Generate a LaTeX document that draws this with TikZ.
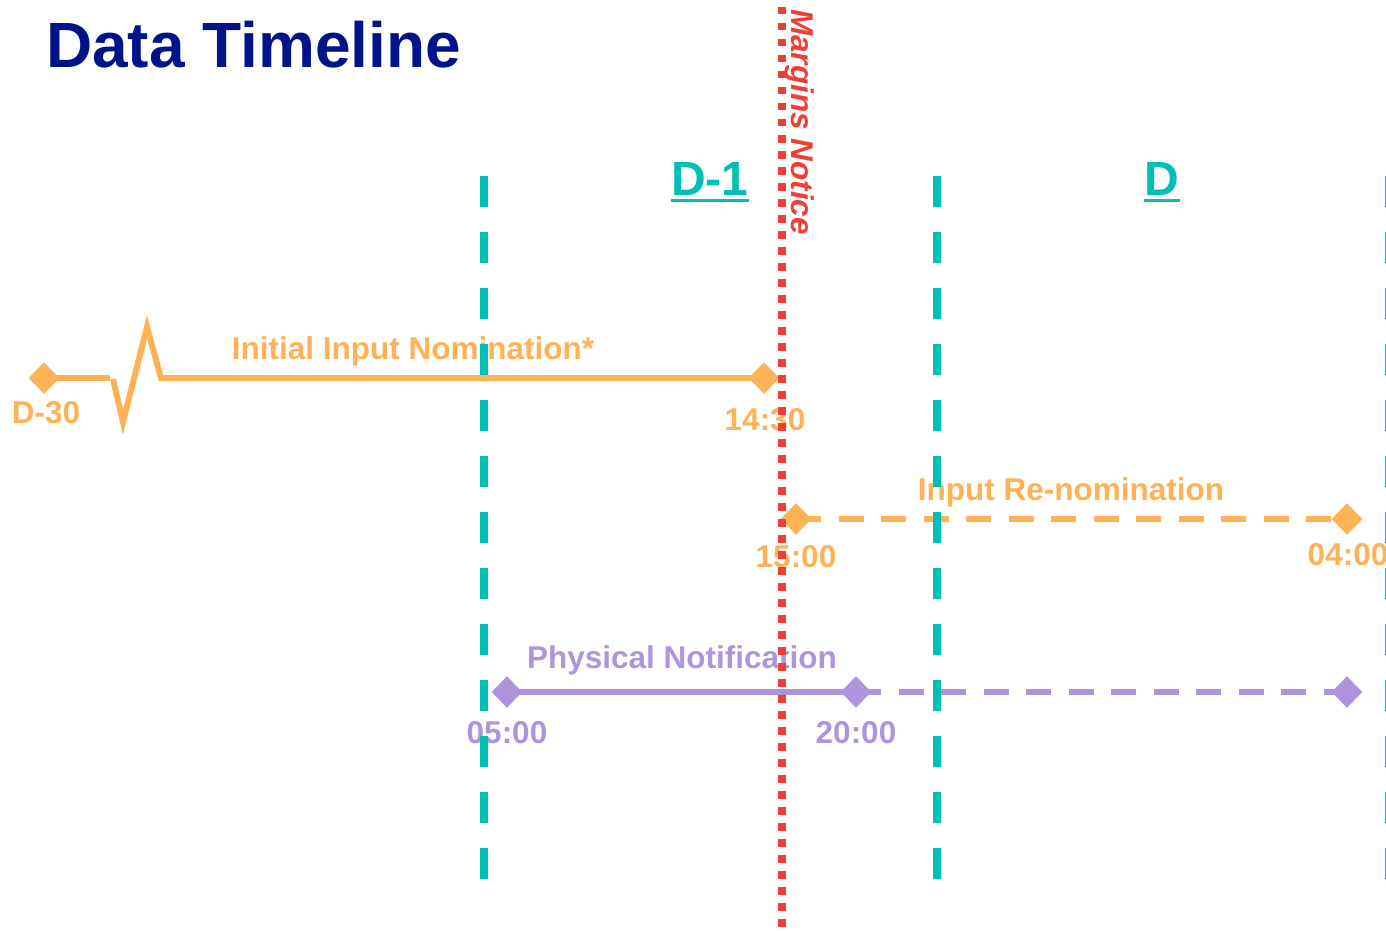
\documentclass[tikz,border=0pt]{standalone}
\usepackage{fontspec}
\setmainfont{Liberation Sans}
\usetikzlibrary{shapes.geometric}
\definecolor{titleblue}{HTML}{001489}
\definecolor{tlorange}{HTML}{FFB155}
\definecolor{tlpurple}{HTML}{AE94DC}
\definecolor{tlteal}{HTML}{00BFB5}
\definecolor{tlred}{HTML}{F03E36}
\tikzset{
  lbl/.style={inner sep=0pt, anchor=base, font=\bfseries\fontsize{31.5}{36}\selectfont},
  daylbl/.style={inner sep=0pt, anchor=base, text=tlteal, font=\bfseries\fontsize{48}{54}\selectfont},
  dia/.style={diamond, inner sep=0pt, minimum width=30pt, minimum height=31pt, draw=none},
  dayline/.style={tlteal, line width=8pt, dash pattern=on 31pt off 25pt},
  marginline/.style={tlred, line width=7.5pt, dash pattern=on 7.5pt off 8.5pt},
  orangeline/.style={tlorange, line width=6pt},
  purpleline/.style={tlpurple, line width=6pt},
  gapdash/.style={dash pattern=on 25pt off 17.5pt}
}
\begin{document}
\begin{tikzpicture}[x=1pt,y=-1pt]
\useasboundingbox (0,0) rectangle (1386,931);

% title
\node[inner sep=0pt, anchor=base west, text=titleblue,
      font=\bfseries\fontsize{64}{72}\selectfont] (title) at (46,68) {Data Timeline};

% timeline anchor points
\node[dia, fill=tlorange] (d30) at (44,378) {};
\node[dia, fill=tlorange] (t1430) at (764,378) {};
\node[dia, fill=tlorange] (t1500) at (796,519) {};
\node[dia, fill=tlorange] (t0400a) at (1347,519) {};
\node[dia, fill=tlpurple] (t0500) at (507,692) {};
\node[dia, fill=tlpurple] (t2000) at (856,692) {};
\node[dia, fill=tlpurple] (t0400b) at (1347,692) {};

% initial input nomination, with a break mark
\coordinate (brk1) at (110,378);
\coordinate (brk2) at (113,379);
\coordinate (brk3) at (123,422);
\coordinate (brk4) at (147,327);
\coordinate (brk5) at (161,378);
\draw[orangeline] (d30.center) -- (brk1);
\draw[orangeline, line join=miter] (brk2) -- (brk3) -- (brk4) -- (brk5) -- (t1430.center);
\draw[orangeline, gapdash] (t1500.center) -- (t0400a.center);
\draw[purpleline] (t0500.center) -- (t2000.center);
\draw[purpleline, gapdash] (t2000.center) -- (t0400b.center);

% redraw markers over the lines
\foreach \n/\c in {d30/tlorange, t1430/tlorange, t1500/tlorange, t0400a/tlorange,
                   t0500/tlpurple, t2000/tlpurple, t0400b/tlpurple}
  \fill[\c] (\n.north) -- (\n.east) -- (\n.south) -- (\n.west) -- cycle;

% labels
\node[lbl, text=tlorange] (lInit) at (413,359) {Initial Input Nomination*};
\node[lbl, text=tlorange] (lD30) at (46,423) {D-30};
\node[lbl, text=tlorange] (l1430) at (765,430) {14:30};
\node[lbl, text=tlorange] (lRe) at (1071,500) {Input Re-nomination};
\node[lbl, text=tlorange] (l1500) at (796,567) {15:00};
\node[lbl, text=tlorange] (l0400) at (1348,565) {04:00};
\node[lbl, text=tlpurple] (lPhys) at (682,668) {Physical Notification};
\node[lbl, text=tlpurple] (l0500) at (507,743) {05:00};
\node[lbl, text=tlpurple] (l2000) at (856,743) {20:00};

% day boundaries
\coordinate (b1top) at (484,176);
\coordinate (b1bot) at (484,880);
\coordinate (b2top) at (937,176);
\coordinate (b2bot) at (937,880);
\coordinate (b3top) at (1389,176);
\coordinate (b3bot) at (1389,880);
\draw[dayline] (b1top) -- (b1bot);
\draw[dayline] (b2top) -- (b2bot);
\draw[dayline] (b3top) -- (b3bot);

% day headings
\node[daylbl] (dm1) at (710,195) {D-1};
\node[daylbl] (dd) at (1162,195) {D};
\draw[tlteal, line width=3pt] ([yshift=-5.5pt]dm1.base west) -- ([yshift=-5.5pt]dm1.base east);
\draw[tlteal, line width=3pt] ([yshift=-5.5pt]dd.base west) -- ([yshift=-5.5pt]dd.base east);

% margins notice
\coordinate (mtop) at (782,7);
\coordinate (mbot) at (782,935);
\draw[marginline] (mtop) -- (mbot);
\node[inner sep=0pt, anchor=base west, rotate=-90, text=tlred,
      font=\bfseries\itshape\fontsize{31.5}{36}\selectfont] (mlbl) at (791,9) {Margins Notice};
\end{tikzpicture}
\end{document}
